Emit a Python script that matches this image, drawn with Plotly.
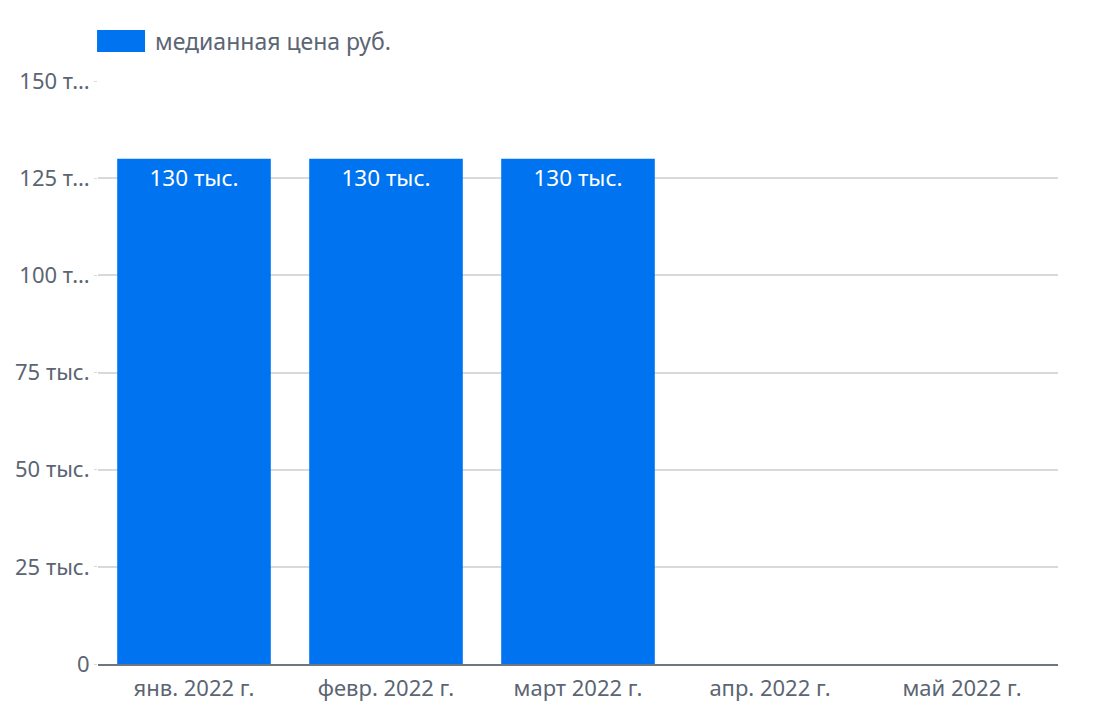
import plotly.graph_objects as go

months = ["янв. 2022 г.", "февр. 2022 г.", "март 2022 г.", "апр. 2022 г.", "май 2022 г."]
median_price = [130000, 130000, 130000, None, None]
bar_labels = ["130 тыс.", "130 тыс.", "130 тыс.", "", ""]
series_name = "медианная цена руб."
y_ticks = [0, 25000, 50000, 75000, 100000, 125000, 150000]
y_tick_labels = ["0", "25 тыс.", "50 тыс.", "75 тыс.", "100 т…", "125 т…", "150 т…"]

text_color = "#5b6573"
bar_color = "#0073f0"

fig = go.Figure(
    go.Bar(
        x=months,
        y=median_price,
        name=series_name,
        marker={"color": bar_color, "line": {"width": 0}},
        text=bar_labels,
        textposition="inside",
        insidetextanchor="end",
        textfont={"color": "white", "size": 22.5},
        textangle=0,
        width=0.8,
        showlegend=False,
    )
)

# legend drawn by hand to get the wide swatch
fig.add_shape(
    type="rect",
    xref="paper",
    yref="paper",
    x0=-0.001,
    x1=0.049,
    y0=1.0497,
    y1=1.0875,
    fillcolor=bar_color,
    line={"width": 0},
)
fig.add_annotation(
    text=series_name,
    xref="paper",
    yref="paper",
    x=0.057,
    y=1.0686,
    xanchor="left",
    yanchor="middle",
    showarrow=False,
    font={"size": 23, "color": text_color},
)

fig.update_layout(
    width=1110,
    height=719,
    margin={"l": 90, "r": 60, "t": 73, "b": 63},
    plot_bgcolor="white",
    paper_bgcolor="white",
    font={"family": "Noto Sans", "size": 22, "color": text_color},
    uniformtext={"mode": "show", "minsize": 10},
)
fig.update_xaxes(
    showgrid=False,
    showline=True,
    linecolor="#6d7580",
    linewidth=2,
    ticks="",
    ticklabelstandoff=4,
    tickfont={"size": 22},
    automargin=False,
)
fig.update_yaxes(
    range=[0, 150000],
    tickvals=y_ticks,
    ticktext=y_tick_labels,
    gridcolor="#d9d9d9",
    gridwidth=1.5,
    zeroline=False,
    ticks="outside",
    ticklen=3,
    tickcolor="#d9d9d9",
    tickfont={"size": 22},
    automargin=False,
)
fig.write_html("out.html")
